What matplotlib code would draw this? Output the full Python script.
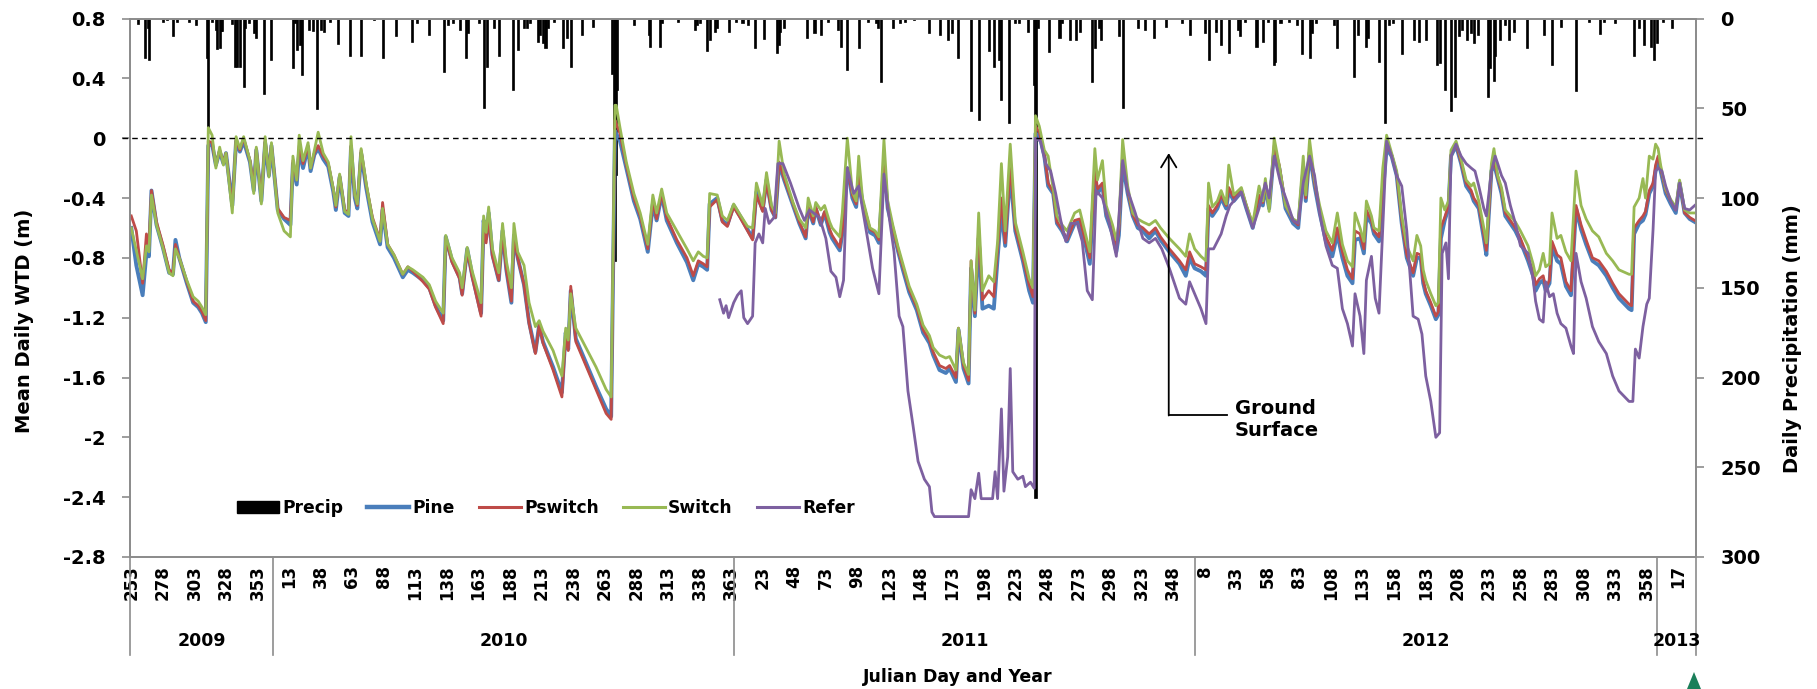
import matplotlib
matplotlib.use("Agg")
import matplotlib.pyplot as plt
import numpy as np
from matplotlib.lines import Line2D
from matplotlib.patches import Patch, Polygon
from matplotlib.transforms import blended_transform_factory

plt.rcParams["font.family"] = "DejaVu Sans"
plt.rcParams["font.weight"] = "bold"

# ---- data (day index 0 = 2009 Julian day 253) ----
wtd_day = [
    0, 4, 9, 12, 14, 16, 20, 25, 30, 33,
    35, 38, 44, 49, 53, 56, 59, 61, 64, 67,
    70, 73, 75, 80, 83, 86, 89, 94, 97, 99,
    103, 106, 109, 111, 116, 121, 126, 128, 131, 133,
    136, 140, 142, 145, 148, 152, 156, 160, 162, 165,
    169, 172, 174, 177, 179, 182, 186, 191, 197, 199,
    203, 208, 215, 219, 223, 231, 236, 241, 247, 249,
    254, 260, 262, 266, 270, 277, 279, 281, 283, 286,
    291, 294, 297, 301, 303, 306, 311, 315, 320, 323,
    326, 334, 341, 344, 346, 348, 352, 360, 368, 376,
    380, 383, 384, 387, 392, 398, 403, 409, 413, 416,
    420, 424, 432, 440, 445, 449, 453, 456, 458, 464,
    468, 472, 477, 482, 488, 492, 495, 500, 503, 507,
    510, 513, 517, 524, 529, 534, 536, 540, 542, 546,
    549, 553, 555, 561, 563, 567, 571, 574, 576, 579,
    585, 589, 592, 596, 599, 603, 607, 611, 616, 622,
    627, 632, 635, 640, 645, 648, 653, 655, 659, 663,
    665, 668, 671, 674, 679, 683, 686, 689, 692, 696,
    700, 706, 711, 714, 716, 719, 723, 726, 730, 733,
    737, 741, 747, 751, 755, 759, 763, 765, 769, 772,
    777, 780, 782, 785, 789, 793, 797, 801, 806, 811,
    815, 822, 830, 835, 838, 842, 847, 851, 853, 856,
    860, 863, 867, 869, 873, 879, 883, 888, 893, 896,
    898, 901, 905, 909, 914, 920, 924, 928, 930, 933,
    937, 941, 946, 951, 955, 959, 963, 967, 969, 973,
    976, 978, 982, 984, 988, 991, 994, 998, 1002, 1006,
    1010, 1015, 1018, 1021, 1023, 1025, 1029, 1033, 1035, 1037,
    1040, 1043, 1045, 1049, 1053, 1057, 1061, 1063, 1067, 1071,
    1073, 1077, 1079, 1082, 1085, 1088, 1092, 1096, 1100, 1106,
    1110, 1112, 1115, 1118, 1120, 1123, 1125, 1129, 1132, 1136,
    1140, 1144, 1148, 1152, 1157, 1162, 1168, 1173, 1178, 1186,
    1188, 1190, 1194, 1197, 1199, 1202, 1205, 1207, 1209, 1211,
    1215, 1219, 1223, 1226, 1230, 1234, 1238,
]

pine = [
    -0.60, -0.85, -1.05, -0.77, -0.79, -0.35, -0.58, -0.73, -0.90, -0.91,
    -0.68, -0.80, -0.97, -1.10, -1.13, -1.17, -1.23, -0.05, -0.04, -0.18,
    -0.09, -0.17, -0.10, -0.45, -0.02, -0.09, -0.02, -0.16, -0.35, -0.08,
    -0.42, -0.03, -0.25, -0.05, -0.48, -0.54, -0.58, -0.17, -0.31, -0.08,
    -0.20, -0.06, -0.22, -0.11, -0.07, -0.14, -0.19, -0.36, -0.48, -0.26,
    -0.50, -0.52, -0.06, -0.40, -0.47, -0.10, -0.33, -0.56, -0.71, -0.48,
    -0.73, -0.80, -0.93, -0.88, -0.90, -0.95, -1.00, -1.12, -1.22, -0.66,
    -0.82, -0.93, -1.04, -0.74, -0.92, -1.17, -0.55, -0.67, -0.50, -0.78,
    -0.95, -0.62, -0.88, -1.10, -0.65, -0.80, -0.98, -1.23, -1.43, -1.25,
    -1.36, -1.53, -1.70, -1.30, -1.41, -1.02, -1.34, -1.50, -1.66, -1.81,
    -1.86, 0.05, 0.03, -0.02, -0.20, -0.42, -0.54, -0.76, -0.44, -0.55,
    -0.38, -0.55, -0.70, -0.83, -0.95, -0.84, -0.86, -0.88, -0.44, -0.40,
    -0.55, -0.58, -0.45, -0.52, -0.61, -0.67, -0.36, -0.48, -0.28, -0.48,
    -0.53, -0.17, -0.28, -0.45, -0.57, -0.67, -0.47, -0.57, -0.47, -0.58,
    -0.50, -0.63, -0.67, -0.75, -0.64, -0.20, -0.40, -0.46, -0.26, -0.43,
    -0.63, -0.65, -0.70, -0.18, -0.47, -0.61, -0.75, -0.88, -1.03, -1.15,
    -1.30, -1.37, -1.45, -1.55, -1.57, -1.54, -1.63, -1.28, -1.54, -1.64,
    -0.87, -1.19, -0.67, -1.14, -1.12, -1.14, -0.80, -0.48, -0.72, -0.23,
    -0.62, -0.82, -1.02, -1.10, 0.03, 0.02, -0.12, -0.32, -0.37, -0.57,
    -0.62, -0.69, -0.57, -0.56, -0.69, -0.84, -0.25, -0.37, -0.32, -0.52,
    -0.64, -0.76, -0.65, -0.17, -0.37, -0.52, -0.60, -0.62, -0.67, -0.62,
    -0.68, -0.76, -0.84, -0.92, -0.80, -0.87, -0.89, -0.92, -0.47, -0.52,
    -0.47, -0.40, -0.47, -0.35, -0.42, -0.36, -0.47, -0.60, -0.40, -0.45,
    -0.32, -0.47, -0.08, -0.20, -0.47, -0.57, -0.60, -0.22, -0.42, -0.10,
    -0.32, -0.50, -0.69, -0.79, -0.64, -0.80, -0.92, -0.97, -0.68, -0.67,
    -0.77, -0.52, -0.57, -0.64, -0.69, -0.37, -0.07, -0.12, -0.25, -0.57,
    -0.80, -0.92, -0.80, -0.80, -0.97, -1.04, -1.12, -1.21, -1.18, -0.67,
    -0.55, -0.47, -0.12, -0.05, -0.17, -0.32, -0.37, -0.42, -0.47, -0.67,
    -0.78, -0.22, -0.17, -0.27, -0.37, -0.52, -0.57, -0.62, -0.69, -0.82,
    -0.92, -1.02, -0.97, -0.95, -1.02, -0.97, -0.72, -0.82, -0.84, -0.99,
    -1.05, -0.47, -0.61, -0.71, -0.82, -0.85, -0.92, -1.00, -1.07, -1.14,
    -1.15, -0.64, -0.57, -0.55, -0.51, -0.37, -0.32, -0.22, -0.14, -0.22,
    -0.37, -0.44, -0.50, -0.30, -0.50, -0.54, -0.56,
]

pswitch = [
    -0.52, -0.62, -0.97, -0.64, -0.72, -0.35, -0.56, -0.71, -0.88, -0.90,
    -0.71, -0.80, -0.96, -1.09, -1.12, -1.16, -1.22, -0.02, -0.03, -0.18,
    -0.08, -0.16, -0.10, -0.46, -0.01, -0.08, 0.00, -0.15, -0.33, -0.07,
    -0.41, -0.01, -0.24, -0.04, -0.47, -0.53, -0.55, -0.15, -0.28, -0.05,
    -0.17, -0.05, -0.20, -0.10, -0.05, -0.12, -0.17, -0.34, -0.46, -0.25,
    -0.48, -0.50, -0.05, -0.38, -0.45, -0.08, -0.31, -0.53, -0.68, -0.43,
    -0.71, -0.78, -0.91, -0.86, -0.89, -0.96, -1.01, -1.13, -1.24, -0.67,
    -0.83, -0.94, -1.05, -0.75, -0.93, -1.19, -0.58, -0.70, -0.53, -0.79,
    -0.95, -0.63, -0.88, -1.09, -0.66, -0.80, -0.98, -1.24, -1.44, -1.25,
    -1.37, -1.55, -1.73, -1.31, -1.42, -0.99, -1.36, -1.52, -1.68, -1.84,
    -1.88, 0.12, 0.10, 0.03, -0.18, -0.40, -0.52, -0.74, -0.42, -0.54,
    -0.37, -0.53, -0.68, -0.80, -0.92, -0.82, -0.84, -0.86, -0.46, -0.41,
    -0.56, -0.59, -0.46, -0.53, -0.62, -0.68, -0.38, -0.49, -0.30, -0.48,
    -0.53, -0.16, -0.27, -0.44, -0.56, -0.66, -0.46, -0.56, -0.46, -0.57,
    -0.49, -0.61, -0.65, -0.73, -0.62, -0.20, -0.38, -0.44, -0.25, -0.42,
    -0.61, -0.63, -0.68, -0.16, -0.46, -0.60, -0.74, -0.86, -1.01, -1.13,
    -1.28, -1.35, -1.43, -1.52, -1.54, -1.52, -1.60, -1.27, -1.52, -1.62,
    -0.82, -1.17, -0.60, -1.08, -1.02, -1.06, -0.74, -0.40, -0.70, -0.18,
    -0.60, -0.80, -0.98, -1.06, 0.08, 0.04, -0.10, -0.30, -0.36, -0.56,
    -0.61, -0.68, -0.55, -0.54, -0.67, -0.80, -0.18, -0.34, -0.30, -0.50,
    -0.62, -0.73, -0.62, -0.12, -0.35, -0.51, -0.58, -0.60, -0.64, -0.60,
    -0.66, -0.74, -0.82, -0.88, -0.76, -0.84, -0.86, -0.88, -0.45, -0.50,
    -0.45, -0.38, -0.45, -0.33, -0.40, -0.34, -0.45, -0.58, -0.38, -0.43,
    -0.30, -0.46, -0.05, -0.18, -0.45, -0.55, -0.58, -0.20, -0.40, -0.07,
    -0.30, -0.48, -0.66, -0.75, -0.60, -0.76, -0.88, -0.94, -0.62, -0.64,
    -0.74, -0.48, -0.55, -0.62, -0.66, -0.33, -0.04, -0.11, -0.24, -0.55,
    -0.78, -0.90, -0.77, -0.78, -0.95, -1.02, -1.10, -1.19, -1.16, -0.60,
    -0.53, -0.45, -0.11, -0.04, -0.16, -0.30, -0.35, -0.40, -0.45, -0.64,
    -0.75, -0.22, -0.14, -0.26, -0.35, -0.50, -0.55, -0.60, -0.67, -0.80,
    -0.89, -0.98, -0.94, -0.92, -1.00, -0.95, -0.69, -0.78, -0.80, -0.96,
    -1.02, -0.45, -0.58, -0.68, -0.80, -0.82, -0.89, -0.97, -1.04, -1.11,
    -1.12, -0.60, -0.55, -0.52, -0.49, -0.35, -0.30, -0.18, -0.12, -0.20,
    -0.35, -0.42, -0.48, -0.29, -0.50, -0.53, -0.55,
]

switch = [
    -0.60, -0.75, -0.94, -0.72, -0.76, -0.38, -0.58, -0.73, -0.90, -0.92,
    -0.74, -0.80, -0.95, -1.06, -1.09, -1.13, -1.18, 0.07, 0.02, -0.20,
    -0.06, -0.18, -0.10, -0.50, 0.01, -0.07, 0.01, -0.15, -0.37, -0.06,
    -0.44, 0.01, -0.26, -0.03, -0.50, -0.62, -0.66, -0.12, -0.28, 0.02,
    -0.15, -0.03, -0.20, -0.08, 0.04, -0.10, -0.16, -0.34, -0.45, -0.24,
    -0.49, -0.51, 0.01, -0.38, -0.44, -0.07, -0.30, -0.54, -0.69, -0.47,
    -0.71, -0.78, -0.91, -0.86, -0.88, -0.93, -0.98, -1.09, -1.17, -0.65,
    -0.80, -0.90, -1.00, -0.73, -0.89, -1.10, -0.52, -0.63, -0.46, -0.74,
    -0.90, -0.57, -0.82, -1.00, -0.57, -0.76, -0.85, -1.10, -1.26, -1.22,
    -1.29, -1.42, -1.59, -1.27, -1.35, -1.04, -1.27, -1.40, -1.53, -1.68,
    -1.73, 0.22, 0.22, 0.07, -0.16, -0.37, -0.50, -0.71, -0.38, -0.50,
    -0.34, -0.50, -0.62, -0.74, -0.82, -0.76, -0.79, -0.80, -0.37, -0.38,
    -0.52, -0.55, -0.44, -0.51, -0.59, -0.60, -0.30, -0.45, -0.23, -0.45,
    -0.50, -0.02, -0.24, -0.43, -0.54, -0.60, -0.40, -0.52, -0.43, -0.48,
    -0.45, -0.56, -0.60, -0.66, -0.50, 0.00, -0.36, -0.42, -0.12, -0.40,
    -0.60, -0.62, -0.66, -0.01, -0.42, -0.58, -0.72, -0.84, -0.99, -1.11,
    -1.25, -1.32, -1.40, -1.45, -1.47, -1.46, -1.55, -1.27, -1.50, -1.58,
    -0.82, -1.15, -0.50, -1.02, -0.92, -0.96, -0.69, -0.17, -0.62, -0.04,
    -0.56, -0.76, -0.94, -1.00, 0.15, 0.08, -0.08, -0.12, -0.34, -0.52,
    -0.58, -0.62, -0.50, -0.48, -0.62, -0.76, -0.07, -0.28, -0.15, -0.45,
    -0.58, -0.68, -0.57, -0.01, -0.32, -0.50, -0.54, -0.56, -0.58, -0.55,
    -0.60, -0.67, -0.74, -0.79, -0.64, -0.74, -0.79, -0.82, -0.30, -0.46,
    -0.42, -0.35, -0.44, -0.18, -0.38, -0.33, -0.45, -0.57, -0.32, -0.42,
    -0.27, -0.49, 0.00, -0.18, -0.45, -0.54, -0.56, -0.12, -0.38, -0.01,
    -0.28, -0.45, -0.62, -0.70, -0.50, -0.71, -0.82, -0.86, -0.50, -0.60,
    -0.69, -0.42, -0.52, -0.60, -0.62, -0.20, 0.02, -0.10, -0.22, -0.52,
    -0.72, -0.82, -0.65, -0.72, -0.88, -0.95, -1.04, -1.12, -1.10, -0.40,
    -0.48, -0.42, -0.08, -0.02, -0.14, -0.28, -0.32, -0.30, -0.42, -0.60,
    -0.70, -0.17, -0.07, -0.25, -0.33, -0.48, -0.52, -0.56, -0.62, -0.72,
    -0.84, -0.92, -0.88, -0.77, -0.86, -0.84, -0.50, -0.67, -0.65, -0.76,
    -0.82, -0.22, -0.45, -0.54, -0.62, -0.66, -0.77, -0.82, -0.88, -0.91,
    -0.91, -0.46, -0.40, -0.27, -0.40, -0.12, -0.14, -0.04, -0.07, -0.18,
    -0.34, -0.41, -0.46, -0.28, -0.48, -0.50, -0.50,
]

refer_day = [
    466, 469, 471, 473, 477, 480, 483, 485, 488, 492,
    494, 497, 500, 502, 505, 509, 512, 516, 522, 529,
    533, 537, 545, 550, 554, 558, 561, 564, 567, 572,
    576, 581, 587, 592, 596, 600, 604, 608, 611, 615,
    619, 623, 628, 632, 634, 636, 663, 665, 668, 671,
    673, 682, 684, 686, 689, 691, 694, 696, 698, 702,
    706, 708, 712, 715, 716, 720, 724, 728, 732, 736,
    740, 744, 749, 753, 757, 761, 764, 769, 774, 780,
    785, 789, 795, 801, 806, 811, 816, 822, 830, 835,
    838, 842, 847, 851, 853, 857, 863, 867, 870, 879,
    883, 888, 893, 898, 901, 905, 910, 915, 920, 924,
    928, 933, 937, 941, 946, 951, 955, 959, 963, 967,
    969, 973, 976, 978, 982, 985, 988, 991, 994, 998,
    1002, 1006, 1010, 1015, 1019, 1022, 1025, 1029, 1033, 1036,
    1038, 1041, 1043, 1045, 1049, 1053, 1057, 1061, 1064, 1067,
    1071, 1073, 1077, 1080, 1082, 1085, 1088, 1092, 1096, 1100,
    1106, 1110, 1112, 1115, 1118, 1120, 1123, 1126, 1129, 1132,
    1136, 1140, 1142, 1144, 1148, 1152, 1157, 1162, 1168, 1173,
    1178, 1186, 1189, 1191, 1194, 1197, 1200, 1202, 1205, 1207,
    1209, 1212, 1215, 1219, 1223, 1226, 1230, 1234, 1238,
]

refer = [
    -1.08, -1.17, -1.12, -1.20, -1.10, -1.05, -1.02, -1.20, -1.24, -1.19,
    -0.70, -0.64, -0.70, -0.47, -0.57, -0.53, -0.17, -0.17, -0.30, -0.47,
    -0.55, -0.48, -0.53, -0.67, -0.89, -0.93, -1.06, -0.95, -0.20, -0.37,
    -0.32, -0.57, -0.87, -1.04, -0.24, -0.52, -0.76, -1.19, -1.26, -1.69,
    -1.92, -2.16, -2.28, -2.33, -2.50, -2.53, -2.53, -2.35, -2.41, -2.24,
    -2.41, -2.41, -2.23, -2.41, -1.81, -2.36, -2.13, -1.54, -2.23, -2.28,
    -2.26, -2.33, -2.30, -2.34, 0.00, -0.02, -0.17, -0.22, -0.37, -0.55,
    -0.69, -0.57, -0.57, -0.69, -1.02, -1.08, -0.35, -0.40, -0.55, -0.79,
    -0.15, -0.35, -0.50, -0.67, -0.70, -0.67, -0.74, -0.87, -1.07, -1.11,
    -0.96, -1.04, -1.14, -1.24, -0.74, -0.74, -0.64, -0.52, -0.45, -0.36,
    -0.47, -0.60, -0.47, -0.30, -0.40, -0.12, -0.30, -0.42, -0.55, -0.57,
    -0.30, -0.12, -0.25, -0.50, -0.72, -0.85, -0.87, -1.14, -1.24, -1.39,
    -1.04, -1.19, -1.44, -0.95, -0.79, -1.07, -1.17, -0.60, -0.02, -0.12,
    -0.25, -0.32, -0.62, -1.19, -1.21, -1.31, -1.59, -1.76, -2.00, -1.97,
    -0.77, -0.70, -0.94, -0.12, -0.04, -0.12, -0.17, -0.20, -0.22, -0.32,
    -0.47, -0.52, -0.22, -0.12, -0.17, -0.25, -0.30, -0.45, -0.57, -0.72,
    -0.77, -0.94, -1.09, -1.21, -1.23, -0.96, -1.06, -1.04, -1.17, -1.24,
    -1.27, -1.39, -1.44, -0.77, -0.96, -1.07, -1.26, -1.36, -1.44, -1.59,
    -1.69, -1.76, -1.76, -1.41, -1.47, -1.26, -1.11, -1.07, -0.61, -0.22,
    -0.20, -0.22, -0.32, -0.42, -0.48, -0.30, -0.47, -0.48, -0.45,
]

precip_day = [
    5, 11, 13, 14, 25, 28, 33, 36, 46, 51, 60, 61, 64, 67, 68, 70, 71, 72,
    80, 82, 84, 86, 89, 90, 93, 97, 99, 105, 111, 128, 130, 131, 134, 135,
    141, 144, 147, 150, 153, 157, 164, 173, 182, 192, 199, 210, 222, 226,
    236, 248, 251, 255, 260, 265, 267, 275, 279, 282, 287, 291, 302, 306,
    311, 313, 316, 322, 324, 326, 328, 330, 335, 342, 345, 348, 357, 366,
    381, 382, 383, 384, 385, 398, 410, 411, 419, 420, 433, 446, 448, 450,
    456, 458, 462, 464, 473, 479, 484, 488, 494, 501, 511, 513, 514, 517,
    535, 541, 546, 552, 560, 562, 567, 576, 583, 590, 591, 594, 603, 609,
    613, 620, 632, 640, 647, 650, 655, 665, 671, 679, 683, 687, 689, 695,
    700, 703, 710, 715, 716, 718, 727, 735, 737, 743, 748, 751, 761, 763,
    766, 768, 782, 785, 797, 803, 810, 819, 832, 838, 850, 853, 859, 863,
    869, 876, 878, 882, 891, 896, 900, 905, 906, 910, 917, 923, 927, 933,
    935, 938, 952, 955, 968, 971, 978, 979, 988, 993, 996, 999, 1006, 1016,
    1020, 1025, 1034, 1036, 1040, 1045, 1048, 1051, 1054, 1058, 1061, 1063,
    1066, 1074, 1076, 1079, 1080, 1084, 1088, 1091, 1095, 1105, 1119, 1125,
    1132, 1144, 1154, 1163, 1166, 1175, 1190, 1194, 1198, 1203, 1206, 1208,
    1213, 1220,
]

precip_mm = [
    3, 22, 5.5, 23, 2, 1, 10, 2, 2, 3.6, 22, 62, 2, 6.4, 17, 16.6, 7, 7,
    3, 27, 27, 27, 38, 5.5, 2.7, 8.3, 10.7, 42, 23, 27.4, 2.7, 17.5, 15, 31.5,
    6.4, 7, 50.6, 6.4, 7.3, 2.2, 14, 21, 20.7, 1, 22, 9.6, 13, 2.7,
    9.2, 29.6, 3.6, 2.7, 6.4, 22, 8.3, 2.7, 49.7, 27, 5.5, 21, 40, 17.5,
    5.5, 5.5, 2.7, 13, 9.2, 13.8, 16.6, 5.5, 2, 16.6, 11, 27, 9.2, 4.5,
    31, 66, 135, 87, 40, 3.6, 9, 15.8, 15.8, 2.7, 2, 6.4, 3.6, 2.7,
    18, 12, 7.3, 5.5, 7.3, 2, 2.7, 3.6, 16.6, 11.4, 19.4, 14.8, 7.3, 5.5,
    10.7, 8.3, 9.2, 2, 6.4, 15.8, 28.7, 16.6, 2, 2.7, 5.5, 35.2, 5.5, 2.7,
    2, 1, 8.3, 9.2, 12, 8.3, 22, 51.5, 56.5, 18, 27, 23, 45.4, 58.4,
    2.7, 2.7, 7.3, 37, 267, 5.5, 18.5, 11, 2.7, 12, 12, 7.3, 35.2, 16.6,
    5.5, 12, 10, 50, 5.5, 6.4, 10.7, 4.5, 2.7, 9.2, 8.3, 23, 7.3, 14.8,
    19.4, 6.4, 10, 2, 15.8, 13, 2, 26, 24, 2.7, 2, 3.6, 20, 22,
    8.3, 2.7, 3.6, 16.6, 32.4, 9.2, 15.8, 11, 24, 58, 3.6, 2.7, 20, 12,
    13, 12, 26, 25, 40, 51.5, 43.5, 10, 6.4, 12, 8.3, 13.8,
    9.2, 43.5, 27.8, 35, 21, 12, 3.6, 12, 7.3, 16.6, 9.2, 26,
    4.5, 40.4, 2.2, 8.8, 2, 2.7, 21, 5.5, 14.8, 15.8, 23, 13.8,
    2, 5.5,
]

# Julian-day tick labels (every 25 days) and the year groups under them
jd_2009 = [253, 278, 303, 328, 353]
jd_2010 = [13, 38, 63, 88, 113, 138, 163, 188, 213, 238, 263, 288, 313, 338, 363]
jd_2011 = [23, 48, 73, 98, 123, 148, 173, 198, 223, 248, 273, 298, 323, 348]
jd_2012 = [8, 33, 58, 83, 108, 133, 158, 183, 208, 233, 258, 283, 308, 333, 358]
jd_2013 = [17]
years = ["2009", "2010", "2011", "2012", "2013"]
year_edges = [-1, 112.5, 477.5, 842.5, 1208.5, 1239]

# ---- style ----
c_pine = "#4A7EBB"
c_psw = "#BE4B48"
c_sw = "#98B954"
c_ref = "#7D60A0"
grey = "#8C8C8C"
tick_fs = 14

W, H = 1817, 689
fig = plt.figure(figsize=(W / 100, H / 100), dpi=100)
ax = fig.add_axes([130 / W, 1 - 557 / H, 1566 / W, 538.5 / H])
ax2 = ax.twinx()
ax.set_zorder(ax2.get_zorder() + 1)
ax.patch.set_visible(False)

# precipitation on the inverted secondary axis
ax2.bar(precip_day, precip_mm, width=1.6, color="black", edgecolor="black",
        linewidth=0.5, align="center")
ax2.set_ylim(300, 0)
ax2.set_yticks(np.arange(0, 301, 50))

# water-table lines
ax.plot(wtd_day, pine, color=c_pine, lw=2.8, solid_joinstyle="round")
ax.plot(wtd_day, pswitch, color=c_psw, lw=2.0, solid_joinstyle="round")
ax.plot(wtd_day, switch, color=c_sw, lw=2.0, solid_joinstyle="round")
ax.plot(refer_day, refer, color=c_ref, lw=2.0, solid_joinstyle="round")

# ground surface reference
ax.plot([-7, 1245], [0, 0], color="black", lw=1.0, dashes=(4, 3), clip_on=False, zorder=5)

ax.set_xlim(-1, 1239)
ax.set_ylim(-2.8, 0.8)
yt = np.arange(-2.8, 0.81, 0.4)
ax.set_yticks(yt)
ax.set_yticklabels(["%g" % (round(v, 1) + 0.0) for v in yt])

jd_labels = jd_2009 + jd_2010 + jd_2011 + jd_2012 + jd_2013
ax.set_xticks(np.arange(0, 25 * len(jd_labels), 25))
ax.set_xticklabels([str(v) for v in jd_labels], rotation=90, va="top", ha="center",
                   fontsize=12)
ax.tick_params(axis="x", length=0, pad=6)
ax.tick_params(axis="y", direction="out", length=5.5, width=1.2, color=grey,
               labelsize=tick_fs, pad=12)
ax2.tick_params(axis="y", direction="out", length=5.5, width=1.2, color=grey,
                labelsize=tick_fs, pad=12)
for a in (ax, ax2):
    for s in a.spines.values():
        s.set_color(grey)
        s.set_linewidth(1.3)

# year group separators and labels below the axis
trans = blended_transform_factory(ax.transData, ax.transAxes)
for xe in year_edges:
    ax.plot([xe, xe], [0, -0.182], transform=trans, color=grey, lw=1.2, clip_on=False)
for i, yr in enumerate(years):
    xc = (year_edges[i] + year_edges[i + 1]) / 2
    ax.text(xc, -0.156, yr, transform=trans, ha="center", va="center", fontsize=12.5)

fig.text(958 / W, 1 - 677 / H, "Julian Day and Year", ha="center", va="center", fontsize=12.5)
fig.text(24 / W, 1 - 321 / H, "Mean Daily WTD (m)", rotation=90, ha="center",
         va="center", fontsize=14)
fig.text(1792 / W, 1 - 339 / H, "Daily Precipitation (mm)", rotation=90, ha="center",
         va="center", fontsize=14)

# "Ground Surface" annotation
ax.annotate("", xy=(821.5, -0.10), xytext=(821.5, -1.854),
            arrowprops=dict(arrowstyle="->,head_length=0.9,head_width=0.55",
                            color="black", lw=1.3, shrinkA=0, shrinkB=0))
ax.plot([821.5, 868], [-1.854, -1.854], color="black", lw=1.3)
ax.text(874, -1.88, "Ground\nSurface", ha="left", va="center", fontsize=14,
        linespacing=1.25)

# legend
handles = [
    Patch(facecolor="black", edgecolor="black"),
    Line2D([], [], color=c_pine, lw=3.2),
    Line2D([], [], color=c_psw, lw=2.2),
    Line2D([], [], color=c_sw, lw=2.2),
    Line2D([], [], color=c_ref, lw=2.2),
]
ax.legend(handles, ["Precip", "Pine", "Pswitch", "Switch", "Refer"], ncol=5,
          frameon=False, loc="center left", bbox_to_anchor=(0.063, 0.091),
          borderpad=0, handlelength=2.45, handleheight=0.75, handletextpad=0.2,
          columnspacing=1.4, prop={"size": 12.3, "weight": "bold"})

# small green logo mark at the bottom right corner
fig.patches.append(Polygon([(1687 / W, 0), (1701 / W, 0), (1694 / W, 1 - 672 / H)],
                           closed=True, transform=fig.transFigure, facecolor="#1B7F5A",
                           edgecolor="none"))

fig.savefig("out.png", dpi=100, facecolor="white")
